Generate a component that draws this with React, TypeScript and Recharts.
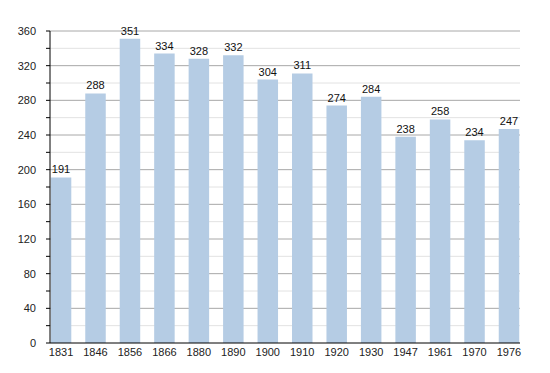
import { BarChart, Bar, XAxis, YAxis, CartesianGrid, LabelList } from 'recharts'

const years = ['1831', '1846', '1856', '1866', '1880', '1890', '1900', '1910', '1920', '1930', '1947', '1961', '1970', '1976']
const population = [191, 288, 351, 334, 328, 332, 304, 311, 274, 284, 238, 258, 234, 247]
const yTicks = [0, 20, 40, 60, 80, 100, 120, 140, 160, 180, 200, 220, 240, 260, 280, 300, 320, 340, 360]
const majorLines = [40, 80, 120, 160, 200, 240, 280, 320, 360]
const minorLines = [20, 60, 100, 140, 180, 220, 260, 300, 340]

const data = years.map((year, i) => ({ year, value: population[i] }))

const font = '"Liberation Sans", Arial, sans-serif'

// only every second tick gets a label
const YTick = (props: any) => {
  const { x, y, payload } = props
  if (payload.value % 40 !== 0) return <g />
  return (
    <text x={x} y={y} dy={4} textAnchor="end" fontSize={11} fill="#222" fontFamily={font}>
      {payload.value}
    </text>
  )
}

export default function App() {
  return (
    <div style={{ position: 'absolute', left: 0, top: 0, background: '#fff' }}>
      <BarChart
        width={550}
        height={373}
        data={data}
        margin={{ top: 31, right: 30, bottom: 0, left: 0 }}
        barSize={20.5}
      >
        <CartesianGrid vertical={false} horizontalValues={minorLines} stroke="#e2e2e2" />
        <CartesianGrid vertical={false} horizontalValues={majorLines} stroke="#a8a8a8" />
        <XAxis
          dataKey="year"
          height={30}
          tickLine={false}
          tickSize={3}
          axisLine={{ stroke: '#000' }}
          padding={{ left: -6.2, right: -6.2 }}
          tick={{ fontSize: 11, fill: '#222', fontFamily: font }}
          interval={0}
        />
        <YAxis
          width={50}
          domain={[0, 360]}
          ticks={yTicks}
          interval={0}
          tickSize={4}
          tickMargin={10}
          axisLine={{ stroke: '#000' }}
          tickLine={{ stroke: '#000' }}
          tick={<YTick />}
        />
        <Bar dataKey="value" fill="#b5cce4" isAnimationActive={false}>
          <LabelList dataKey="value" position="top" offset={4} fontSize={11} fill="#111" fontFamily={font} />
        </Bar>
      </BarChart>
    </div>
  )
}
